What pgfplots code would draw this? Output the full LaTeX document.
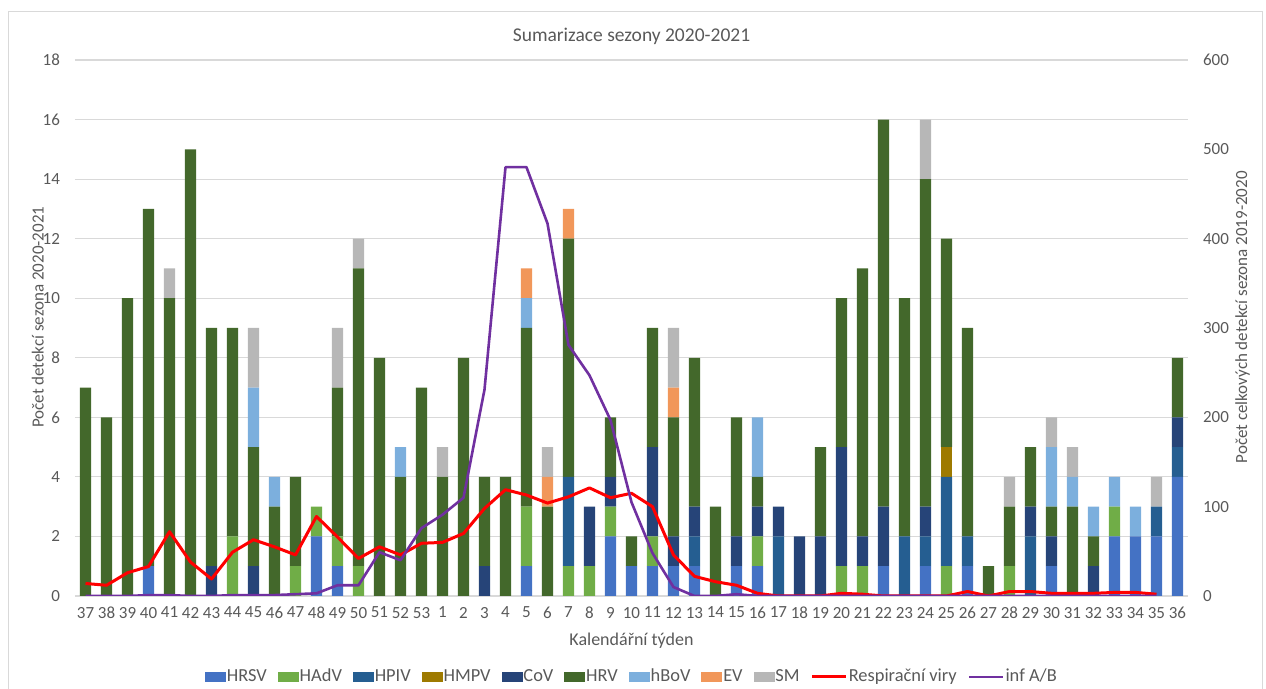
\documentclass[border=0pt]{standalone}
\usepackage{fontspec}
\setmainfont{Carlito}
\usepackage{pgfplots}
\pgfplotsset{compat=1.18}
\usepackage{pgfplotstable}
\definecolor{cHRSV}{HTML}{4472C4}
\definecolor{cHAdV}{HTML}{70AD47}
\definecolor{cHPIV}{HTML}{255E91}
\definecolor{cHMPV}{HTML}{9E7A00}
\definecolor{cCoV}{HTML}{264478}
\definecolor{cHRV}{HTML}{43682B}
\definecolor{chBoV}{HTML}{7CAFDD}
\definecolor{cEV}{HTML}{F1975A}
\definecolor{cSM}{HTML}{B7B7B7}
\definecolor{cResp}{HTML}{FF0000}
\definecolor{cInf}{HTML}{7030A0}
\definecolor{cGrid}{HTML}{D9D9D9}
\definecolor{cText}{HTML}{595959}
\pgfplotstableread{
idx wk HRSV HAdV HPIV HMPV CoV HRV hBoV EV SM Resp Inf
0 37 0 0 0 0 0 7 0 0 0 14 0
1 38 0 0 0 0 0 6 0 0 0 12 0
2 39 0 0 0 0 0 10 0 0 0 26 0
3 40 1 0 0 0 0 12 0 0 0 33 1
4 41 0 0 0 0 0 10 0 0 1 72 1
5 42 0 0 0 0 0 15 0 0 0 38 0
6 43 0 0 0 0 1 8 0 0 0 19 0
7 44 0 2 0 0 0 7 0 0 0 49 1
8 45 0 0 0 0 1 4 2 0 2 63 1
9 46 0 0 0 0 0 3 1 0 0 55 1
10 47 0 1 0 0 0 3 0 0 0 46 2
11 48 2 1 0 0 0 0 0 0 0 89 3
12 49 1 1 0 0 0 5 0 0 2 66 12
13 50 0 1 0 0 0 10 0 0 1 42 12
14 51 0 0 0 0 0 8 0 0 0 55 49
15 52 0 0 0 0 0 4 1 0 0 46 40
16 53 0 0 0 0 0 7 0 0 0 59 76
17 1 0 0 0 0 0 4 0 0 1 60 91
18 2 0 0 0 0 0 8 0 0 0 70 110
19 3 0 0 0 0 1 3 0 0 0 98 231
20 4 0 0 0 0 0 4 0 0 0 119 480
21 5 1 2 0 0 0 6 1 1 0 113 480
22 6 0 0 0 0 0 3 0 1 1 104 417
23 7 0 1 3 0 0 8 0 1 0 111 281
24 8 0 1 0 0 2 0 0 0 0 121 247
25 9 2 1 0 0 1 2 0 0 0 110 197
26 10 1 0 0 0 0 1 0 0 0 115 105
27 11 1 1 0 0 3 4 0 0 0 100 48
28 12 1 0 0 0 1 4 0 1 2 46 10
29 13 1 0 1 0 1 5 0 0 0 22 0
30 14 0 0 0 0 0 3 0 0 0 16 0
31 15 1 0 0 0 1 4 0 0 0 12 2
32 16 1 1 0 0 1 1 2 0 0 3 0
33 17 0 0 2 0 1 0 0 0 0 0 0
34 18 0 0 0 0 2 0 0 0 0 0 0
35 19 0 0 0 0 2 3 0 0 0 0 0
36 20 0 1 0 0 4 5 0 0 0 3 0
37 21 0 1 0 0 1 9 0 0 0 2 0
38 22 1 0 0 0 2 13 0 0 0 0 0
39 23 0 0 2 0 0 8 0 0 0 0 0
40 24 1 0 1 0 1 11 0 0 2 0 0
41 25 0 1 3 1 0 7 0 0 0 0 0
42 26 1 0 1 0 0 7 0 0 0 5 0
43 27 0 0 0 0 0 1 0 0 0 0 0
44 28 0 1 0 0 0 2 0 0 1 5 0
45 29 0 0 2 0 1 2 0 0 0 5 0
46 30 1 0 0 0 1 1 2 0 1 3 0
47 31 0 0 0 0 0 3 1 0 1 3 0
48 32 0 0 0 0 1 1 1 0 0 3 0
49 33 2 1 0 0 0 0 1 0 0 4 0
50 34 2 0 0 0 0 0 1 0 0 4 0
51 35 2 0 1 0 0 0 0 0 1 2 0
52 36 4 0 1 0 1 2 0 0 0 nan nan
}\datatable
\newcommand{\legfont}{\fontsize{9.2}{11}\selectfont}
\begin{document}
\begin{tikzpicture}
\useasboundingbox (0,0) rectangle (633pt,344.5pt);
\draw[cGrid, line width=0.5pt] (4pt,-5pt) rectangle (631pt,338.5pt);
\begin{axis}[
  at={(37.5pt,46.5pt)}, anchor=south west,
  scale only axis, width=556.5pt, height=268pt,
  xmin=-0.5, xmax=52.5, ymin=0, ymax=18,
  ybar stacked, bar width=5.6pt,
  xtick={0,...,52},
  xticklabels={37,38,39,40,41,42,43,44,45,46,47,48,49,50,51,52,53,1,2,3,4,5,6,7,8,9,10,11,12,13,14,15,16,17,18,19,20,21,22,23,24,25,26,27,28,29,30,31,32,33,34,35,36},
  ytick={0,2,...,18},
  ymajorgrids, grid style={cGrid, line width=0.6pt},
  axis y line*=left, axis x line*=bottom,
  y axis line style={draw=none},
  x axis line style={cGrid, line width=0.6pt},
  tick style={draw=none},
  tick label style={font=\fontsize{8.5}{10}\selectfont, text=cText},
  /pgf/number format/assume math mode=true,
  yticklabel style={xshift=-4pt},
  xticklabel style={yshift=-2pt},
  title={Sumarizace sezony 2020-2021},
  title style={at={(axis description cs:0.5,1.05)}, anchor=center, yshift=-7.5pt, font=\fontsize{9.75}{11}\selectfont, text=cText},
  xlabel={Kalendářní týden},
  xlabel style={at={(axis description cs:0.5,-0.084)}, anchor=center, font=\fontsize{9}{10}\selectfont, text=cText},
  ylabel={Počet detekcí sezona 2020-2021},
  ylabel style={at={(axis description cs:-0.0335,0.52)}, anchor=center, font=\fontsize{8.5}{10}\selectfont, text=cText},
  every axis plot/.append style={draw=none},
]
\addplot[fill=cHRSV] table[x=idx,y=HRSV]{\datatable};
\addplot[fill=cHAdV] table[x=idx,y=HAdV]{\datatable};
\addplot[fill=cHPIV] table[x=idx,y=HPIV]{\datatable};
\addplot[fill=cHMPV] table[x=idx,y=HMPV]{\datatable};
\addplot[fill=cCoV] table[x=idx,y=CoV]{\datatable};
\addplot[fill=cHRV] table[x=idx,y=HRV]{\datatable};
\addplot[fill=chBoV] table[x=idx,y=hBoV]{\datatable};
\addplot[fill=cEV] table[x=idx,y=EV]{\datatable};
\addplot[fill=cSM] table[x=idx,y=SM]{\datatable};
\end{axis}
\begin{axis}[
  at={(37.5pt,46.5pt)}, anchor=south west,
  scale only axis, width=556.5pt, height=268pt,
  xmin=-0.5, xmax=52.5, ymin=0, ymax=600,
  ytick={0,100,...,600},
  axis y line*=right, axis x line=none,
  y axis line style={draw=none},
  tick style={draw=none},
  tick label style={font=\fontsize{8.5}{10}\selectfont, text=cText},
  /pgf/number format/assume math mode=true,
  yticklabel style={xshift=4pt},
  ylabel={Počet celkových detekcí sezona 2019-2020},
  ylabel style={at={(axis description cs:1.049,0.52)}, anchor=center, rotate=0, font=\fontsize{8.5}{10}\selectfont, text=cText},
  unbounded coords=discard,
  legend columns=-1,
  legend style={at={(0.5,-0.151)}, anchor=center, draw=none, fill=none,
    font=\legfont, text=cText,
    /tikz/every even column/.append style={column sep=5pt},
    nodes={inner xsep=0.5pt, font=\legfont}},
]
\addlegendimage{legend image code/.code={\fill[cHRSV] (0pt,-2.3pt) rectangle (10pt,2.3pt);}}
\addlegendentry{HRSV}
\addlegendimage{legend image code/.code={\fill[cHAdV] (0pt,-2.3pt) rectangle (10pt,2.3pt);}}
\addlegendentry{HAdV}
\addlegendimage{legend image code/.code={\fill[cHPIV] (0pt,-2.3pt) rectangle (10pt,2.3pt);}}
\addlegendentry{HPIV}
\addlegendimage{legend image code/.code={\fill[cHMPV] (0pt,-2.3pt) rectangle (10pt,2.3pt);}}
\addlegendentry{HMPV}
\addlegendimage{legend image code/.code={\fill[cCoV] (0pt,-2.3pt) rectangle (10pt,2.3pt);}}
\addlegendentry{CoV}
\addlegendimage{legend image code/.code={\fill[cHRV] (0pt,-2.3pt) rectangle (10pt,2.3pt);}}
\addlegendentry{HRV}
\addlegendimage{legend image code/.code={\fill[chBoV] (0pt,-2.3pt) rectangle (10pt,2.3pt);}}
\addlegendentry{hBoV}
\addlegendimage{legend image code/.code={\fill[cEV] (0pt,-2.3pt) rectangle (10pt,2.3pt);}}
\addlegendentry{EV}
\addlegendimage{legend image code/.code={\fill[cSM] (0pt,-2.3pt) rectangle (10pt,2.3pt);}}
\addlegendentry{SM}
\addplot[cResp, line width=1.5pt, line join=round, no marks] table[x=idx,y=Resp]{\datatable};
\addlegendentry{Respirační viry}
\addplot[cInf, line width=1.3pt, line join=round, no marks] table[x=idx,y=Inf]{\datatable};
\addlegendentry{inf A/B}
\end{axis}
\end{tikzpicture}
\end{document}
